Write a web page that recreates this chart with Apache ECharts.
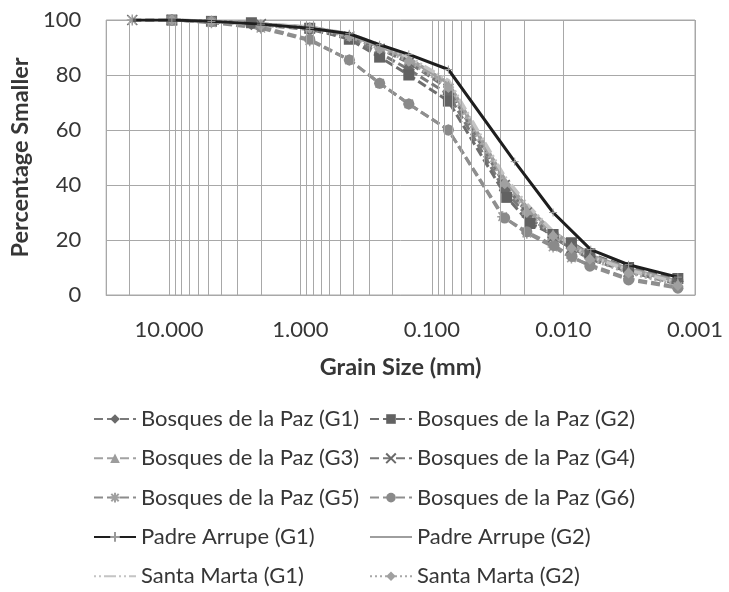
<!DOCTYPE html>
<html>
<head>
<meta charset="utf-8">
<script src="https://cdn.jsdelivr.net/npm/echarts@6/dist/echarts.min.js"></script>
<style>
  html, body { margin: 0; padding: 0; background: #fff; }
  #chart { width: 729px; height: 592px; }
</style>
</head>
<body>
<div id="chart"></div>
<script>
// Grain size distribution curves (sieve + hydrometer), grain size in mm vs % smaller

// Bosques de la Paz (G1)
const bpG1Size = [9.5, 4.75, 2.36, 0.85, 0.425, 0.25, 0.15, 0.075, 0.028, 0.019, 0.012, 0.0087, 0.0063, 0.0032, 0.00135];
const bpG1Pct  = [100, 99.5, 98.5, 96.5, 93.5, 88, 82, 73, 38, 29, 21, 17, 14, 9, 5];
// Bosques de la Paz (G2)
const bpG2Size = [9.5, 4.75, 2.36, 0.85, 0.425, 0.25, 0.15, 0.075, 0.027, 0.018, 0.012, 0.0087, 0.0063, 0.0032, 0.00135];
const bpG2Pct  = [100, 99.5, 99, 97, 93, 86.5, 80, 70.5, 35.5, 26, 22, 19, 15, 10, 6];
// Bosques de la Paz (G3)
const bpG3Size = [9.5, 4.75, 2.0, 0.85, 0.425, 0.25, 0.15, 0.075, 0.028, 0.019, 0.012, 0.0087, 0.0063, 0.0032, 0.00135];
const bpG3Pct  = [100, 99.5, 98.5, 97.5, 94.5, 90, 85.5, 76, 41, 31, 22, 17.5, 13.5, 8.5, 4];
// Bosques de la Paz (G4)
const bpG4Size = [19, 9.5, 4.75, 2.0, 0.85, 0.425, 0.25, 0.15, 0.075, 0.028, 0.019, 0.012, 0.0087, 0.0063, 0.0032, 0.00135];
const bpG4Pct  = [100, 100, 99.5, 98.5, 97, 94, 89.5, 84.5, 75, 40, 30, 21, 17, 13, 8.5, 4];
// Bosques de la Paz (G5)
const bpG5Size = [19, 9.5, 4.75, 2.0, 0.85, 0.425, 0.25, 0.15, 0.075, 0.029, 0.019, 0.012, 0.0087, 0.0063, 0.0032, 0.00135];
const bpG5Pct  = [100, 100, 99, 97, 92.5, 85.5, 77, 69.5, 60, 28.5, 22.5, 17.5, 13.5, 11, 6, 3];
// Bosques de la Paz (G6)
const bpG6Size = [9.5, 4.75, 2.0, 0.85, 0.425, 0.25, 0.15, 0.075, 0.028, 0.019, 0.0118, 0.0086, 0.0063, 0.0032, 0.00135];
const bpG6Pct  = [100, 99.5, 97.5, 93, 85.5, 77, 69.5, 60, 28, 23, 18, 14, 10.5, 5.5, 2.5];
// Padre Arrupe (G1)
const paG1Size = [19, 9.5, 4.75, 2.0, 0.85, 0.425, 0.25, 0.15, 0.075, 0.0235, 0.012, 0.0062, 0.0032, 0.00135];
const paG1Pct  = [100, 100, 99.5, 98.5, 97, 95, 91, 87.5, 82, 48.5, 30, 16.5, 11, 6.5];
// Padre Arrupe (G2)
const paG2Size = [9.5, 4.75, 2.0, 0.85, 0.425, 0.25, 0.15, 0.075, 0.028, 0.019, 0.012, 0.0087, 0.0063, 0.0032, 0.00135];
const paG2Pct  = [100, 99.5, 98.5, 97.5, 94.5, 90.5, 86, 77, 42, 32, 23, 18.5, 14.5, 9.5, 5];
// Santa Marta (G1)
const smG1Size = [9.5, 4.75, 2.0, 0.85, 0.425, 0.25, 0.15, 0.075, 0.028, 0.019, 0.012, 0.0087, 0.0063, 0.0032, 0.00135];
const smG1Pct  = [100, 99.5, 98.5, 97.5, 95, 91, 86.5, 78, 43, 33, 23, 18, 14, 9, 4.5];
// Santa Marta (G2)
const smG2Size = [9.5, 4.75, 2.0, 0.85, 0.425, 0.25, 0.15, 0.075, 0.028, 0.019, 0.012, 0.0087, 0.0063, 0.0032, 0.00135];
const smG2Pct  = [100, 99.5, 98, 97, 94, 89.5, 85, 75.5, 40.5, 30, 21.5, 17, 13, 8, 3.5];

// Axis tick values
const xTickLabels = [10, 1, 0.1, 0.01, 0.001];
const yTicks = [0, 20, 40, 60, 80, 100];

const zip = (xs, ys) => xs.map((x, i) => [x, ys[i]]);

// Minor log grid lines (2..9 per decade) up to the 30 mm axis end
const minorGrid = [];
for (let k = -3; k <= 1; k++) {
  for (let m = 2; m <= 9; m++) {
    const v = m * Math.pow(10, k);
    if (v < 30) minorGrid.push(+v.toPrecision(3));
  }
}

const FONT = 'Lato';
const TXT = '#363636';
const GRID = '#a8a8a8';

// Marker shapes
const xMark = 'path://M0,0L10,10M10,0L0,10';
const starMark = 'path://M0,0L10,10M10,0L0,10M5,-1.5L5,11.5M-1.5,5L11.5,5';
const plusMark = 'path://M5,0L5,10M0,5L10,5';

function lineSeries(name, size, pct, opt) {
  return Object.assign({
    name: name,
    type: 'line',
    data: zip(size, pct),
    symbolSize: 10,
    showSymbol: true,
    z: 3
  }, opt);
}

const series = [
  // Minor grid lines drawn on the log scale
  {
    name: '__grid', type: 'line', data: [], silent: true, z: 0,
    markLine: {
      silent: true, symbol: 'none', animation: false,
      label: { show: false },
      lineStyle: { color: GRID, width: 1, type: 'solid' },
      data: minorGrid.map(v => ({ xAxis: v }))
    }
  },
  lineSeries('Bosques de la Paz (G1)', bpG1Size, bpG1Pct, {
    symbol: 'diamond', symbolSize: 12,
    lineStyle: { color: '#7a7a7a', width: 3, type: [9, 4] },
    itemStyle: { color: '#6a6a6a' }
  }),
  lineSeries('Bosques de la Paz (G2)', bpG2Size, bpG2Pct, {
    symbol: 'rect', symbolSize: 11,
    lineStyle: { color: '#6e6e6e', width: 3, type: [9, 4] },
    itemStyle: { color: '#626262' }
  }),
  lineSeries('Bosques de la Paz (G3)', bpG3Size, bpG3Pct, {
    symbol: 'triangle', symbolSize: 11,
    lineStyle: { color: '#a2a2a2', width: 3, type: [9, 4] },
    itemStyle: { color: '#9c9c9c' }
  }),
  lineSeries('Bosques de la Paz (G4)', bpG4Size, bpG4Pct, {
    symbol: xMark, symbolSize: 10,
    lineStyle: { color: '#777777', width: 3, type: [9, 4] },
    itemStyle: { color: '#6a6a6a', borderColor: '#6a6a6a', borderWidth: 1.5 }
  }),
  lineSeries('Bosques de la Paz (G5)', bpG5Size, bpG5Pct, {
    symbol: starMark, symbolSize: 11,
    lineStyle: { color: '#8c8c8c', width: 3, type: [9, 4] },
    itemStyle: { color: '#a0a0a0', borderColor: '#a0a0a0', borderWidth: 1.5 }
  }),
  lineSeries('Bosques de la Paz (G6)', bpG6Size, bpG6Pct, {
    symbol: 'circle', symbolSize: 11,
    lineStyle: { color: '#8f8f8f', width: 3, type: [9, 4] },
    itemStyle: { color: '#8a8a8a' }
  }),
  lineSeries('Padre Arrupe (G1)', paG1Size, paG1Pct, {
    symbol: plusMark, symbolSize: 8, z: 5,
    lineStyle: { color: '#1e1e1e', width: 3 },
    itemStyle: { color: '#9a9a9a', borderColor: '#9a9a9a', borderWidth: 1 }
  }),
  lineSeries('Padre Arrupe (G2)', paG2Size, paG2Pct, {
    symbol: 'none',
    lineStyle: { color: '#9e9e9e', width: 3.5 },
    itemStyle: { color: '#9e9e9e' }
  }),
  lineSeries('Santa Marta (G1)', smG1Size, smG1Pct, {
    symbol: 'none',
    lineStyle: { color: '#c4c4c4', width: 3.5, type: [2, 3, 2, 3, 12, 3] },
    itemStyle: { color: '#c4c4c4' }
  }),
  lineSeries('Santa Marta (G2)', smG2Size, smG2Pct, {
    symbol: 'diamond', symbolSize: 11,
    lineStyle: { color: '#a8a8a8', width: 3, type: [2, 3] },
    itemStyle: { color: '#a0a0a0' }
  })
];

// Series drawn as plain lines get no marker in their legend icon
const noMarker = ['Padre Arrupe (G2)', 'Santa Marta (G1)'];
const leftCol = ['Bosques de la Paz (G1)', 'Bosques de la Paz (G3)', 'Bosques de la Paz (G5)', 'Padre Arrupe (G1)', 'Santa Marta (G1)'];
const rightCol = ['Bosques de la Paz (G2)', 'Bosques de la Paz (G4)', 'Bosques de la Paz (G6)', 'Padre Arrupe (G2)', 'Santa Marta (G2)'];

function legendCol(names, left) {
  return {
    data: names.map(n => noMarker.includes(n)
      ? { name: n, itemStyle: { opacity: 0 } }
      : { name: n }),
    orient: 'vertical',
    left: left,
    top: 408,
    padding: 0,
    itemWidth: 42,
    itemHeight: 12,
    itemGap: 17.3,
    selectedMode: false,
    textStyle: { fontFamily: FONT, fontSize: 22, color: TXT, lineHeight: 22 }
  };
}

const isDecade = v => xTickLabels.some(t => Math.abs(t - v) / t < 1e-6);

const chart = echarts.init(document.getElementById('chart'), null, { renderer: 'canvas' });
chart.setOption({
  animation: false,
  backgroundColor: '#ffffff',
  grid: {
    left: 102, right: 34, top: 20, bottom: 297,
    show: true, borderColor: GRID, borderWidth: 1, containLabel: false
  },
  legend: [legendCol(leftCol, 93), legendCol(rightCol, 369)],
  xAxis: {
    type: 'log',
    logBase: 10,
    inverse: true,
    min: 0.001,
    max: 30,
    name: 'Grain Size (mm)',
    nameLocation: 'middle',
    nameGap: 60,
    nameTextStyle: { fontFamily: FONT, fontWeight: 'bold', fontSize: 23.5, color: TXT },
    axisLine: { show: true, lineStyle: { color: GRID, width: 1 } },
    axisTick: { show: false },
    splitLine: { show: true, lineStyle: { color: GRID, width: 1 } },
    axisLabel: {
      fontFamily: FONT, fontSize: 22, color: TXT, margin: 24,
      showMaxLabel: false,
      formatter: v => (isDecade(v) ? v.toFixed(3) : '')
    }
  },
  yAxis: {
    type: 'value',
    min: yTicks[0],
    max: yTicks[yTicks.length - 1],
    interval: 20,
    name: 'Percentage Smaller',
    nameLocation: 'middle',
    nameGap: 66,
    nameRotate: 90,
    nameTextStyle: { fontFamily: FONT, fontWeight: 'bold', fontSize: 23.5, color: TXT },
    axisLine: { show: false },
    axisTick: { show: false },
    splitLine: { show: true, lineStyle: { color: GRID, width: 1 } },
    axisLabel: { fontFamily: FONT, fontSize: 22, color: TXT, margin: 25 }
  },
  series: series
});
</script>
</body>
</html>
